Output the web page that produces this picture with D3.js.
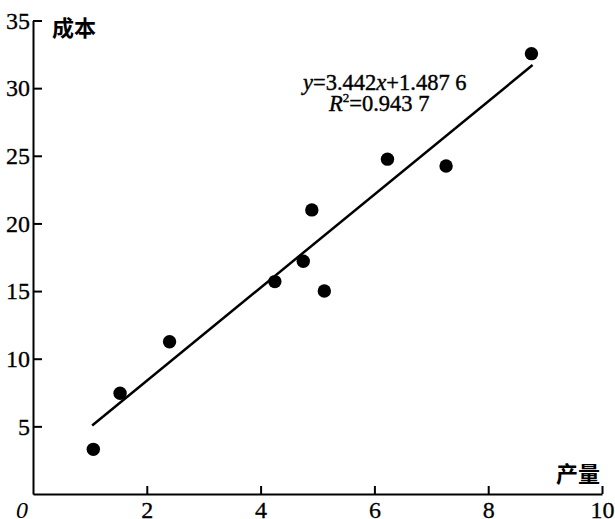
<!DOCTYPE html>
<html>
<head>
<meta charset="utf-8">
<script src="https://cdn.jsdelivr.net/npm/d3@7"></script>
<style>
  body { margin: 0; background: #fff; }
  svg { display: block; }
  .cjk { font-family: "Noto Sans CJK SC", sans-serif; font-weight: bold; font-size: 22px; }
</style>
</head>
<body>
<svg id="svg" width="615" height="519"></svg>
<script>
// data
let output = [1.06, 1.53, 2.40, 4.25, 4.75, 4.90, 5.12, 6.23, 7.26, 8.76];
let cost = [3.3, 7.45, 11.25, 15.7, 17.2, 21.0, 15.0, 24.75, 24.25, 32.55];
let xTicks = [2, 4, 6, 8, 10];
let yTicks = [5, 10, 15, 20, 25, 30, 35];
let slope = 3.442;
let intercept = 1.4876;
let fitRange = [1.04, 8.78];

let svg = d3.select("#svg");

let x = d3.scaleLinear().domain([0, 10]).range([33, 602]);
let y = d3.scaleLinear().domain([0, 35]).range([494, 20.5]);

function styleAxis(g) {
    g.selectAll("line, path").attr("stroke-width", 2);
    g.selectAll("text")
        .style("font-family", "'Liberation Serif', serif")
        .style("font-size", "24px")
        .attr("stroke", "black")
        .attr("stroke-width", 0.3);
}

// axes, ticks pointing inward
svg.append("g")
    .attr("transform", `translate(0,${y(0)})`)
    .call(d3.axisBottom(x).tickValues(xTicks).tickSize(-8).tickSizeOuter(0).tickPadding(7))
    .call(styleAxis);

svg.append("g")
    .attr("transform", `translate(${x(0)},0)`)
    .call(d3.axisLeft(y).tickValues(yTicks).tickSize(-9).tickSizeOuter(0).tickPadding(3))
    .call(styleAxis);

// origin label sits off to the left of the corner
svg.append("text")
    .attr("x", 22)
    .attr("y", 518)
    .attr("text-anchor", "middle")
    .style("font-family", "'Liberation Serif', serif")
    .style("font-size", "24px")
    .style("font-style", "italic")
    .text("0");

// axis titles
svg.append("text").attr("class", "cjk").attr("x", 52).attr("y", 36).text("成本");
svg.append("text").attr("class", "cjk").attr("x", 556).attr("y", 482).text("产量");

// fitted line
svg.append("line")
    .attr("x1", x(fitRange[0]))
    .attr("y1", y(slope * fitRange[0] + intercept))
    .attr("x2", x(fitRange[1]))
    .attr("y2", y(slope * fitRange[1] + intercept))
    .attr("stroke", "black")
    .attr("stroke-width", 2.5);

// points
svg.selectAll("circle")
    .data(output)
    .enter()
    .append("circle")
    .attr("cx", d => x(d))
    .attr("cy", (d, i) => y(cost[i]))
    .attr("r", 6.7)
    .attr("fill", "black");

// equation
let eq = svg.append("g")
    .style("font-family", "'Liberation Serif', serif")
    .style("font-size", "22.5px")
    .attr("stroke", "black")
    .attr("stroke-width", 0.4);

let t1 = eq.append("text").attr("x", 303).attr("y", 90);
t1.append("tspan").style("font-style", "italic").text("y");
t1.append("tspan").text("=3.442");
t1.append("tspan").style("font-style", "italic").text("x");
t1.append("tspan").text("+1.487 6");

let t2 = eq.append("text").attr("x", 329).attr("y", 111);
t2.append("tspan").style("font-style", "italic").text("R");
t2.append("tspan").attr("dy", -9).style("font-size", "13px").text("2");
t2.append("tspan").attr("dy", 9).text("=0.943 7");
</script>
</body>
</html>
